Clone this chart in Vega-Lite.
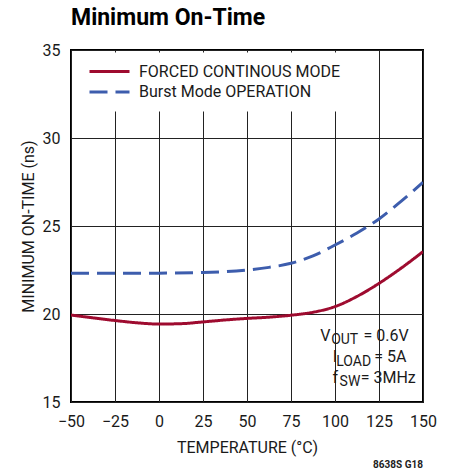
{
  "$schema": "https://vega.github.io/schema/vega-lite/v6.json",
  "width": 352,
  "height": 352,
  "autosize": "none",
  "padding": {"left": 71, "top": 50, "right": 29, "bottom": 69},
  "background": "white",
  "title": {"text": "Minimum On-Time", "anchor": "start", "frame": "group", "font": "Roboto", "fontSize": 23, "fontWeight": "bold", "color": "black", "offset": 12},
  "config": {
    "font": "Roboto",
    "view": {"stroke": "black", "strokeWidth": 2},
    "axis": {"labelFont": "Roboto", "labelFontSize": 16, "labelColor": "#1a1a1a", "titleFont": "Roboto", "titleFontSize": 16, "titleFontWeight": "normal", "titleColor": "#1a1a1a", "ticks": false, "domain": false, "grid": true, "gridColor": "#222222", "gridWidth": 1, "gridOpacity": 1, "labelFlush": false, "labelOverlap": false},
    "legend": {"title": null, "orient": "none", "legendX": 8, "legendY": 2.5, "padding": 9, "fillColor": "white", "strokeColor": null, "symbolType": "stroke", "symbolSize": 1600, "symbolStrokeWidth": 3, "clipHeight": 20, "rowPadding": 0.4, "labelFont": "Roboto", "labelFontSize": 16, "labelColor": "#1a1a1a", "labelOffset": 8, "labelLimit": 400}
  },
  "datasets": {
    "curves": [
      {"temp": -50, "ns": 19.94, "mode": "FORCED CONTINOUS MODE"},
      {"temp": -37.5, "ns": 19.78, "mode": "FORCED CONTINOUS MODE"},
      {"temp": -25, "ns": 19.63, "mode": "FORCED CONTINOUS MODE"},
      {"temp": -12.5, "ns": 19.5, "mode": "FORCED CONTINOUS MODE"},
      {"temp": 0, "ns": 19.43, "mode": "FORCED CONTINOUS MODE"},
      {"temp": 12.5, "ns": 19.45, "mode": "FORCED CONTINOUS MODE"},
      {"temp": 25, "ns": 19.55, "mode": "FORCED CONTINOUS MODE"},
      {"temp": 37.5, "ns": 19.66, "mode": "FORCED CONTINOUS MODE"},
      {"temp": 50, "ns": 19.75, "mode": "FORCED CONTINOUS MODE"},
      {"temp": 62.5, "ns": 19.82, "mode": "FORCED CONTINOUS MODE"},
      {"temp": 75, "ns": 19.93, "mode": "FORCED CONTINOUS MODE"},
      {"temp": 87.5, "ns": 20.1, "mode": "FORCED CONTINOUS MODE"},
      {"temp": 100, "ns": 20.42, "mode": "FORCED CONTINOUS MODE"},
      {"temp": 112.5, "ns": 21.0, "mode": "FORCED CONTINOUS MODE"},
      {"temp": 125, "ns": 21.74, "mode": "FORCED CONTINOUS MODE"},
      {"temp": 137.5, "ns": 22.6, "mode": "FORCED CONTINOUS MODE"},
      {"temp": 150, "ns": 23.54, "mode": "FORCED CONTINOUS MODE"},
      {"temp": -50, "ns": 22.31, "mode": "Burst Mode OPERATION"},
      {"temp": -25, "ns": 22.31, "mode": "Burst Mode OPERATION"},
      {"temp": 0, "ns": 22.32, "mode": "Burst Mode OPERATION"},
      {"temp": 25, "ns": 22.36, "mode": "Burst Mode OPERATION"},
      {"temp": 50, "ns": 22.5, "mode": "Burst Mode OPERATION"},
      {"temp": 62.5, "ns": 22.65, "mode": "Burst Mode OPERATION"},
      {"temp": 75, "ns": 22.88, "mode": "Burst Mode OPERATION"},
      {"temp": 87.5, "ns": 23.3, "mode": "Burst Mode OPERATION"},
      {"temp": 100, "ns": 23.92, "mode": "Burst Mode OPERATION"},
      {"temp": 112.5, "ns": 24.6, "mode": "Burst Mode OPERATION"},
      {"temp": 125, "ns": 25.4, "mode": "Burst Mode OPERATION"},
      {"temp": 137.5, "ns": 26.4, "mode": "Burst Mode OPERATION"},
      {"temp": 150, "ns": 27.48, "mode": "Burst Mode OPERATION"}
    ],
    "notes": [
      {"t": "V", "x": 91.6, "y": 18.45},
      {"t": "= 0.6V", "x": 116.2, "y": 18.45},
      {"t": "I", "x": 98.75, "y": 17.26},
      {"t": "= 5A", "x": 122.3, "y": 17.26},
      {"t": "f", "x": 98.6, "y": 16.09},
      {"t": "= 3MHz", "x": 114.6, "y": 16.09}
    ],
    "subs": [
      {"t": "OUT", "x": 97.8, "y": 18.27},
      {"t": "LOAD", "x": 100.7, "y": 17.07},
      {"t": "SW", "x": 102.6, "y": 15.9}
    ],
    "footer": [
      {"t": "8638S G18", "x": 150, "y": 11.25}
    ]
  },
  "layer": [
    {
      "mark": {"type": "rect", "fill": "white"},
      "encoding": {
        "x": {"datum": 85, "type": "quantitative"},
        "x2": {"datum": 148.5},
        "y": {"datum": 15.25, "type": "quantitative"},
        "y2": {"datum": 19.85}
      }
    },
    {
      "data": {"name": "curves"},
      "mark": {"type": "line", "strokeWidth": 3, "interpolate": "monotone", "clip": true},
      "encoding": {
        "x": {"field": "temp", "type": "quantitative", "scale": {"domain": [-50, 150], "nice": false, "zero": false},
              "axis": {"title": "TEMPERATURE (°C)", "values": [-50, -25, 0, 25, 50, 75, 100, 125, 150], "labelPadding": 11, "titlePadding": 10}},
        "y": {"field": "ns", "type": "quantitative", "scale": {"domain": [15, 35], "nice": false, "zero": false},
              "axis": {"title": "MINIMUM ON-TIME (ns)", "values": [15, 20, 25, 30, 35], "labelPadding": 11, "titlePadding": 6}},
        "color": {"field": "mode", "type": "nominal", "scale": {"domain": ["FORCED CONTINOUS MODE", "Burst Mode OPERATION"], "range": ["#9E0B2F", "#3D5DAD"]}, "legend": {"title": null}},
        "strokeDash": {"field": "mode", "type": "nominal", "scale": {"domain": ["FORCED CONTINOUS MODE", "Burst Mode OPERATION"], "range": [[1, 0], [18, 8]]}, "legend": {"title": null}}
      }
    },
    {
      "data": {"name": "notes"},
      "mark": {"type": "text", "align": "left", "baseline": "alphabetic", "font": "Roboto", "fontSize": 16, "color": "#1a1a1a"},
      "encoding": {
        "x": {"field": "x", "type": "quantitative"},
        "y": {"field": "y", "type": "quantitative"},
        "text": {"field": "t"}
      }
    },
    {
      "data": {"name": "subs"},
      "mark": {"type": "text", "align": "left", "baseline": "alphabetic", "font": "Roboto", "fontSize": 14, "color": "#1a1a1a"},
      "encoding": {
        "x": {"field": "x", "type": "quantitative"},
        "y": {"field": "y", "type": "quantitative"},
        "text": {"field": "t"}
      }
    },
    {
      "data": {"name": "footer"},
      "mark": {"type": "text", "align": "right", "baseline": "alphabetic", "font": "Roboto", "fontSize": 10, "fontWeight": "bold", "color": "#222222"},
      "encoding": {
        "x": {"field": "x", "type": "quantitative"},
        "y": {"field": "y", "type": "quantitative"},
        "text": {"field": "t"}
      }
    }
  ]
}
